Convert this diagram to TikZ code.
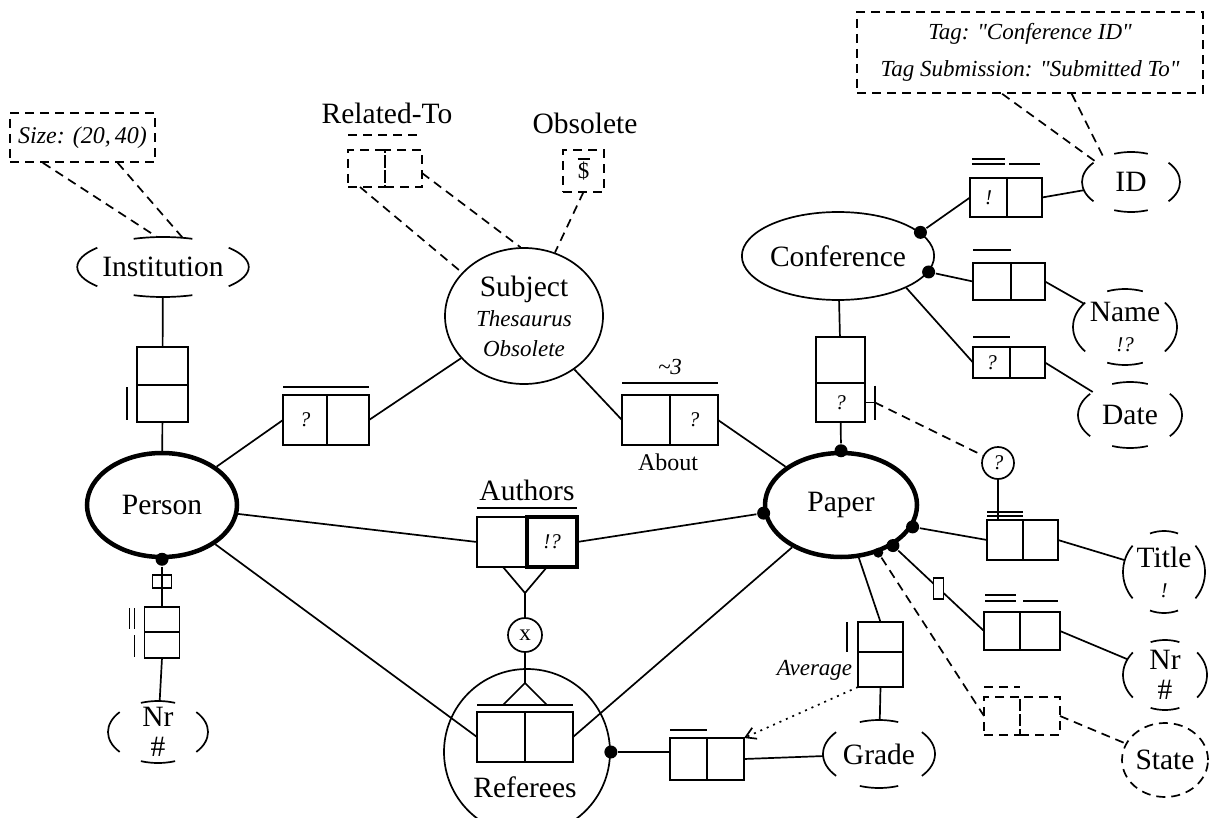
\documentclass[tikz,border=0pt]{standalone}
\usepackage{fontspec}
\setmainfont{Liberation Serif}
\usetikzlibrary{arrows.meta,positioning,calc,shapes.geometric}

\newcommand\lblfont{\fontsize{29.5}{30}\selectfont}
\newcommand\itfont{\fontsize{23}{30}\selectfont\itshape}
\newcommand\qfont{\fontsize{21}{22}\selectfont\itshape}
\newcommand\notefont{\fontsize{23}{37}\selectfont\itshape}
\newcommand\smallfont{\fontsize{24}{25}\selectfont}

% broken outline round a value type
\newcommand\vtarcs[1]{%
  \draw let \p1=($(#1.east)-(#1.center)$), \p2=($(#1.north)-(#1.center)$) in
    (#1.center) ++(-40:\x1 and \y2) arc[start angle=-40, end angle=40, x radius=\x1, y radius=\y2]
    (#1.center) ++(70:\x1 and \y2) arc[start angle=70, end angle=110, x radius=\x1, y radius=\y2]
    (#1.center) ++(140:\x1 and \y2) arc[start angle=140, end angle=220, x radius=\x1, y radius=\y2]
    (#1.center) ++(250:\x1 and \y2) arc[start angle=250, end angle=290, x radius=\x1, y radius=\y2];}

\begin{document}
\begin{tikzpicture}[x=1pt, y=-1pt, line width=1.7pt,
  objtype/.style={ellipse, draw, line width=4.5pt, inner sep=0pt, font=\lblfont},
  enttype/.style={ellipse, draw, inner sep=0pt, font=\lblfont, align=center},
  valtype/.style={ellipse, inner sep=0pt, outer sep=0pt, font=\lblfont, align=center},
  rolebox/.style 2 args={rectangle, draw, inner sep=0pt, outer sep=0pt,
    minimum width=#1, minimum height=#2, font=\qfont},
  dsh/.style={dash pattern=on 9pt off 6pt},
  mand/.style={circle, fill, inner sep=0pt, minimum size=13pt},
  lbl/.style={inner sep=0pt, font=\lblfont},
  note/.style={draw, dsh, inner sep=0pt, font=\notefont, align=center}
]
\useasboundingbox (0,0) rectangle (1220,818);

% object types
\node[objtype, minimum width=150pt, minimum height=104pt] (person) at (162,505) {Person};
\node[objtype, minimum width=152pt, minimum height=104pt] (paper) at (841,505) {Paper};
\node[enttype, minimum width=158pt, minimum height=136pt] (subject) at (524,316)
  {Subject\\{\itfont Thesaurus}\\{\itfont Obsolete}};
\node[enttype, minimum width=186pt, minimum height=88pt] (conf) at (838,256) {Conference};
\node[circle, draw, inner sep=0pt, minimum size=166pt] (refs) at (527,752) {};
\node[lbl] (refname) at (525,787) {Referees};

% value types
\node[valtype, minimum width=156pt, minimum height=60pt] (inst) at (163,267) {Institution};
\node[valtype, minimum width=98pt, minimum height=60pt] (id) at (1131,182) {ID};
\node[valtype, inner ysep=-6pt, minimum width=104pt, minimum height=76pt] (name) at (1125,327) {Name\\{\qfont !?}};
\node[valtype, minimum width=104pt, minimum height=66pt] (date) at (1130,415) {Date};
\node[valtype, inner ysep=-6pt, minimum width=82pt, minimum height=82pt] (title) at (1164,572) {Title\\{\qfont !}};
\node[valtype, inner ysep=-8pt, minimum width=84pt, minimum height=70pt] (nrp) at (1165,675) {Nr\\\#};
\node[valtype, minimum width=112pt, minimum height=68pt] (grade) at (879,754) {Grade};
\node[valtype, inner ysep=-10pt, minimum width=100pt, minimum height=62pt] (nrl) at (158,732) {Nr\\\#};
\node[valtype, draw, dsh, minimum width=86pt, minimum height=74pt] (state) at (1165,760) {State};
\vtarcs{inst}
\vtarcs{id}
\vtarcs{name}
\vtarcs{date}
\vtarcs{title}
\vtarcs{nrp}
\vtarcs{grade}
\vtarcs{nrl}

% notes
\node[note, minimum width=145pt, minimum height=49pt, font=\fontsize{24}{25}\selectfont\itshape]
  (sizenote) at (82.5,137.5) {Size: (20,\,40)};
\node[note, minimum width=346pt, minimum height=81pt] (tagnote) at (1030,52.5)
  {Tag: \textquotedbl Conference ID\textquotedbl\\Tag Submission: \textquotedbl Submitted To\textquotedbl};

% fact types
\node[rolebox={51pt}{38pt}] (inA) at (162.5,366) {};
\node[rolebox={51pt}{37pt}, below=0pt of inA] (inB) {};
\node[rolebox={44pt}{50pt}] (psA) at (305,420) {?};
\node[rolebox={42pt}{50pt}, right=0pt of psA] (psB) {};
\node[rolebox={48pt}{50pt}] (abA) at (646,420) {};
\node[rolebox={48pt}{50pt}, right=0pt of abA] (abB) {?};
\node[rolebox={50pt}{50pt}] (auA) at (502,542) {};
\node[rolebox={50pt}{50pt}, right=0pt of auA, line width=4pt] (auB) {!?};
\node[rolebox={48pt}{50pt}] (rfA) at (501,737) {};
\node[rolebox={48pt}{50pt}, right=0pt of rfA] (rfB) {};
\node[rolebox={37pt}{42pt}] (rgA) at (688.5,759) {};
\node[rolebox={37pt}{42pt}, right=0pt of rgA] (rgB) {};
\node[rolebox={49pt}{46pt}] (cpA) at (840.5,360) {};
\node[rolebox={49pt}{39pt}, below=0pt of cpA] (cpB) {?};
\node[rolebox={37pt}{39pt}] (idA) at (988.5,197.5) {!};
\node[rolebox={35pt}{39pt}, right=0pt of idA] (idB) {};
\node[rolebox={38pt}{37pt}] (nmA) at (992,281.5) {};
\node[rolebox={34pt}{37pt}, right=0pt of nmA] (nmB) {};
\node[rolebox={37pt}{31pt}] (dtA) at (991.5,362.5) {?};
\node[rolebox={35pt}{31pt}, right=0pt of dtA] (dtB) {};
\node[rolebox={36pt}{40pt}] (tiA) at (1005,540) {};
\node[rolebox={35pt}{40pt}, right=0pt of tiA] (tiB) {};
\node[rolebox={36pt}{38pt}] (nrA) at (1002,631) {};
\node[rolebox={40pt}{38pt}, right=0pt of nrA] (nrB) {};
\node[rolebox={36pt}{38pt}, dsh] (stA) at (1002,716) {};
\node[rolebox={40pt}{38pt}, dsh, right=0pt of stA] (stB) {};
\node[rolebox={45pt}{30pt}] (grA) at (880.5,637) {};
\node[rolebox={45pt}{35pt}, below=0pt of grA] (grB) {};
\node[rolebox={35pt}{25pt}] (nlA) at (162,619.5) {};
\node[rolebox={35pt}{26pt}, below=0pt of nlA] (nlB) {};
\node[rolebox={9.5pt}{13pt}] (smA) at (157.25,581.5) {};
\node[rolebox={9.5pt}{13pt}, right=0pt of smA] (smB) {};
\node[rolebox={37pt}{37pt}, dsh] (rtA) at (366.5,168.5) {};
\node[rolebox={37pt}{37pt}, dsh, right=0pt of rtA] (rtB) {};
\node[rolebox={41pt}{42pt}, dsh, font=\fontsize{23}{23}\selectfont] (obB) at (583.5,171) {\$};

% uniqueness bars
\draw ([xshift=-10pt,yshift=-2pt]inB.north west) -- ([xshift=-10pt,yshift=2pt]inB.south west);
\draw ([yshift=8pt]psA.north west) -- ([yshift=8pt]psB.north east);
\draw ([yshift=12pt]abA.north west) -- ([yshift=12pt]abB.north east);
\draw ([yshift=9pt]auA.north west) -- ([yshift=9pt]auB.north east);
\draw ([yshift=7pt]rfA.north west) -- ([yshift=7pt]rfB.north east);
\draw ([yshift=8pt]rgA.north west) -- ([yshift=8pt]rgA.north east);
\draw ([xshift=2pt,yshift=14pt]idA.north west) -- ([xshift=-2pt,yshift=14pt]idA.north east)
      ([xshift=2pt,yshift=19pt]idA.north west) -- ([xshift=-2pt,yshift=19pt]idA.north east)
      ([xshift=2pt,yshift=14pt]idB.north west) -- ([xshift=-2pt,yshift=14pt]idB.north east);
\draw ([yshift=13pt]nmA.north west) -- ([yshift=13pt]nmA.north east);
\draw ([yshift=10pt]dtA.north west) -- ([yshift=10pt]dtA.north east);
\draw ([yshift=4pt]tiA.north west) -- ([yshift=4pt]tiA.north east)
      ([yshift=8pt]tiA.north west) -- ([yshift=8pt]tiA.north east);
\draw ([xshift=1pt,yshift=11pt]nrA.north west) -- ([xshift=-4pt,yshift=11pt]nrA.north east)
      ([xshift=1pt,yshift=17pt]nrA.north west) -- ([xshift=-4pt,yshift=17pt]nrA.north east)
      ([xshift=3pt,yshift=11pt]nrB.north west) -- ([xshift=-2pt,yshift=11pt]nrB.north east);
\draw[dsh] ([yshift=10pt]stA.north west) -- ([yshift=10pt]stA.north east);
\draw ([xshift=-11pt]grA.north west) -- ([xshift=-11pt]grA.south west);
\draw ([xshift=-15pt,yshift=-1pt]nlA.north west) -- ([xshift=-15pt,yshift=3pt]nlA.south west)
      ([xshift=-10pt,yshift=-1pt]nlA.north west) -- ([xshift=-10pt,yshift=3pt]nlA.south west)
      ([xshift=-10pt,yshift=-3pt]nlB.north west) -- ([xshift=-10pt,yshift=1pt]nlB.south west);
\draw[dsh] ([yshift=15pt]rtA.north west) -- ([yshift=15pt]rtB.north east);
\draw ([xshift=-6pt,yshift=-9pt]obB.north) -- ([xshift=6pt,yshift=-9pt]obB.north);

% labels
\node[lbl] (reltext) at (387,113) {Related-To};
\node[lbl] (obstext) at (585,123) {Obsolete};
\node[lbl] (autext) at (527,490) {Authors};
\node[lbl, font=\smallfont] (abtext) at (668,462) {About};
\node[lbl, font=\itfont] (freq) at (670,367) {\textasciitilde 3};
\node[lbl, font=\fontsize{23}{24}\selectfont\itshape, anchor=east] (avgtext) at (853,670) {Average};

% mandatory dots
\node[mand] (d1) at (paper.north) {};
\node[mand] (d2) at (paper.186) {};
\node[mand] (d3) at (paper.-17) {};
\node[mand] (d4) at (paper.-38) {};
\node[mand, minimum size=10pt] (d5) at (paper.-52) {};
\node[mand] (d6) at (conf.16) {};
\node[mand] (d7) at (conf.-10) {};
\node[mand] (d8) at (person.south) {};
\node[mand] (d9) at (refs.east) {};

% circles of the constraints
\node[circle, draw, inner sep=0pt, minimum size=34pt, font=\fontsize{23}{23}\selectfont] (xc) at (525,635) {x};
\node[circle, draw, inner sep=0pt, minimum size=32pt, font=\qfont] (qc) at (998,463) {?};

% connectors
\draw (inst) -- (inA);
\draw (inB) -- (person);
\draw (person) -- (psA.west);
\draw (psB.east) -- (subject);
\draw (subject) -- (abA.west);
\draw (abB.east) -- (paper);
\draw (person) -- (auA.west);
\draw (auB.east) -- (d2);
\draw (person) -- (rfA.west);
\draw (rfB.east) -- (paper);
\draw (d9) -- (d9 -| rgA.west);
\draw (rgB.east) -- (grade);
\draw (conf) -- (cpA);
\draw (cpB) -- (d1);
\draw (d6) -- (idA.west);
\draw (idB.east) -- (id);
\draw (d7) -- (nmA.west);
\draw (nmB.east) -- (name);
\draw (conf.-25) -- (dtA.west);
\draw (dtB.east) -- (date);
\draw (d3) -- (tiA.west);
\draw (tiB.east) -- (title);
\draw (d4) -- node[rolebox={10pt}{21pt}, fill=white, pos=.47] (nrmark) {} (nrA.west);
\draw (nrB.east) -- (nrp);
\draw[dsh] (d5) -- (stA.west);
\draw[dsh] (stB.east) -- (state);
\draw (paper) -- (grA.north);
\draw (grB.south) -- (grade);
\draw[dash pattern=on 2pt off 5pt, -{Straight Barb[length=10pt,width=12pt]}] (grB.south west) -- (rgB.north east);
\draw (d8) -- (smA.north east);
\draw (smA.south east) -- (nlA.north);
\draw (nlB.south) -- (nrl);

% subtype-like triangles and exclusion
\coordinate (autip) at (525,593);
\coordinate (rftip) at (525,683);
\draw ($(autip)+(-22,-26)$) -- (autip) -- ($(autip)+(22,-26)$);
\draw ($(rftip)+(-22,22)$) -- (rftip) -- ($(rftip)+(22,22)$);
\draw (autip) -- (xc);
\draw (xc) -- (rftip);

% subset to title
\draw (cpB.east) -- ++(10,0) coordinate (cptick);
\draw ([yshift=17pt]cptick) -- ([yshift=-17pt]cptick);
\draw[dsh] (cptick) -- (qc);
\draw (qc.south) -- (qc.south |- tiA.north);

% dashed links of the notes
\draw[dsh] ($(sizenote.south west)!.23!(sizenote.south east)$) -- (inst.101);
\draw[dsh] ($(sizenote.south west)!.74!(sizenote.south east)$) -- (inst.56);
\draw[dsh] ($(tagnote.south west)!.42!(tagnote.south east)$) -- (id.150);
\draw[dsh] ($(tagnote.south west)!.62!(tagnote.south east)$) -- (id.138);
\draw[dsh] ([xshift=12pt]rtA.south west) -- (subject.145);
\draw[dsh] ([yshift=-4.5pt]rtB.east) -- (subject.93);
\draw[dsh] (obB.south) -- (subject.64);
\end{tikzpicture}
\end{document}
